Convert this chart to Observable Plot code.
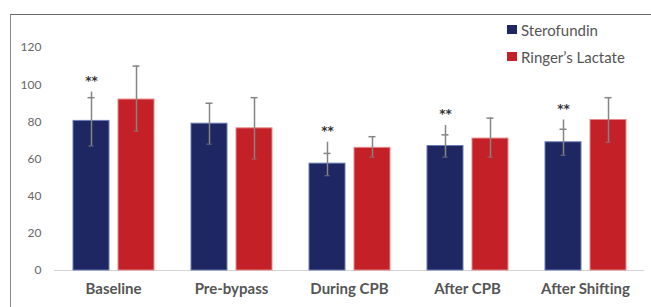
<!DOCTYPE html>
<html>
<head>
<meta charset="utf-8">
<script src="https://cdn.jsdelivr.net/npm/d3@7"></script>
<script src="https://cdn.jsdelivr.net/npm/@observablehq/plot@0.6"></script>
<style>
  html, body { margin: 0; padding: 0; background: #fff; }
  #wrap { position: relative; width: 651px; height: 307px; overflow: hidden; }
  #frame { position: absolute; left: 10px; top: 14px; width: 660px; height: 320px;
           border-top: 1.5px solid #6a6a6a; border-left: 1.5px solid #8a8a8a; }
  #chart { position: absolute; left: 0; top: 0; }
  #legend { position: absolute; left: 507px; top: 16px; font-family: Lato, "Open Sans", sans-serif;
            font-size: 15px; color: #555; }
  #legend .item { display: flex; align-items: center; height: 27px; }
  #legend .sw { width: 10px; height: 9px; margin-right: 4px; }
</style>
</head>
<body>
<div id="wrap">
  <div id="frame"></div>
  <div id="chart"></div>
  <div id="legend"></div>
</div>
<script>
const categories = ["Baseline", "Pre-bypass", "During CPB", "After CPB", "After Shifting"];
const seriesNames = ["Sterofundin", "Ringer\u2019s Lactate"];
const colors = ["#1e2762", "#c32028"];
const strokes = ["#6b7bb5", "#e58a8a"];

const sterofundinMean = [80.5, 79, 57.5, 67, 69];
const sterofundinHigh = [93, 90, 63, 73, 76];
const sterofundinExt  = [96, null, 69, 78, 81];
const sterofundinLow  = [67, 68, 51, 61, 62];
const sterofundinStar = [true, false, true, true, true];

const ringerMean = [92, 76.5, 66, 71, 81];
const ringerHigh = [110, 93, 72, 82, 93];
const ringerLow  = [75, 60, 61, 61, 69];

const yTicks = [0, 20, 40, 60, 80, 100, 120];

const data = [];
categories.forEach((c, i) => {
  data.push({cat: c, series: seriesNames[0], mean: sterofundinMean[i], high: sterofundinHigh[i],
             top: sterofundinExt[i] ?? sterofundinHigh[i], low: sterofundinLow[i], star: sterofundinStar[i]});
  data.push({cat: c, series: seriesNames[1], mean: ringerMean[i], high: ringerHigh[i],
             top: ringerHigh[i], low: ringerLow[i], star: false});
});

const errColor = "#858585";

const chart = Plot.plot({
  width: 651,
  height: 307,
  marginLeft: 52,
  marginRight: 6,
  marginTop: 47,
  marginBottom: 37,
  style: {fontFamily: "Lato, 'Open Sans', sans-serif", background: "transparent"},
  fx: {domain: categories, padding: 0, axis: "bottom", label: null, tickSize: 0, tickPadding: 13},
  x: {domain: seriesNames, axis: null, paddingInner: 0.2, paddingOuter: 0.39},
  y: {domain: [0, 120], ticks: yTicks, tickSize: 0, tickPadding: 13, label: null, line: false},
  color: {domain: seriesNames, range: colors},
  marks: [
    Plot.ruleY([0], {stroke: "#d4d4d4", strokeWidth: 1.2}),
    Plot.barY(data, {fx: "cat", x: "series", y: "mean", fill: "series",
      stroke: d => strokes[seriesNames.indexOf(d.series)], strokeWidth: 1}),
    Plot.ruleX(data, {fx: "cat", x: "series", y1: "low", y2: "top", stroke: errColor, strokeWidth: 1.5}),
    Plot.tickY(data, {fx: "cat", x: "series", y: "high", stroke: errColor, strokeWidth: 1.5, insetLeft: 14.5, insetRight: 14.5}),
    Plot.tickY(data, {fx: "cat", x: "series", y: "low", stroke: errColor, strokeWidth: 1.2, insetLeft: 15.5, insetRight: 15.5, strokeOpacity: 0.7}),
    Plot.text(data.filter(d => d.star), {fx: "cat", x: "series", y: "top", text: () => "**", dy: -11,
      fill: "#333", fontSize: 12, fontWeight: "bold", fontFamily: "DejaVu Sans"})
  ]
});

chart.querySelectorAll("g[aria-label='y-axis tick label']").forEach(g => {
  g.setAttribute("fill", "#666");
  g.setAttribute("font-size", "12");
});
chart.querySelectorAll("g[aria-label='fx-axis tick label']").forEach(g => {
  g.setAttribute("fill", "#555");
  g.setAttribute("font-size", "15");
  g.setAttribute("font-weight", "bold");
});

document.getElementById("chart").appendChild(chart);

const legend = document.getElementById("legend");
seriesNames.forEach((s, i) => {
  const item = document.createElement("div");
  item.className = "item";
  const sw = document.createElement("span");
  sw.className = "sw";
  sw.style.background = colors[i];
  const t = document.createElement("span");
  t.textContent = s;
  item.appendChild(sw);
  item.appendChild(t);
  legend.appendChild(item);
});
</script>
</body>
</html>
